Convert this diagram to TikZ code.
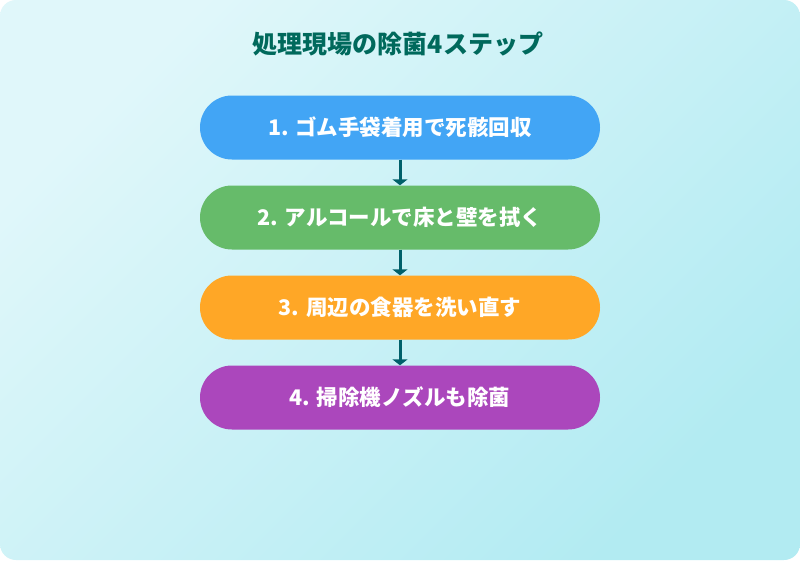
\documentclass[tikz,border=0pt]{standalone}
\usepackage{fontspec}
\setmainfont{Noto Sans CJK JP}
\usetikzlibrary{arrows.meta}
\definecolor{bgA}{HTML}{E0F7FA}
\definecolor{bgB}{HTML}{B2EBF2}
\definecolor{titlec}{HTML}{00695C}
\definecolor{arrowc}{HTML}{00606A}
\definecolor{c1}{HTML}{42A5F5}
\definecolor{c2}{HTML}{66BB6A}
\definecolor{c3}{HTML}{FFA726}
\definecolor{c4}{HTML}{AB47BC}
\tikzset{
  stepbox/.style={rounded corners=32pt, minimum width=400pt, minimum height=64pt,
    inner sep=0pt, text=white, font=\bfseries\fontsize{21.5pt}{24pt}\selectfont, anchor=center},
  flowarrow/.style={draw=arrowc, line width=3pt, -{Triangle[width=15pt,length=6pt]}}
}
\begin{document}
\begin{tikzpicture}[x=1pt,y=-1pt]
\useasboundingbox (0,0) rectangle (800,560);
\fill[white] (0,0) rectangle (800,560);
\shade[rounded corners=16pt, top color=bgA, bottom color=bgB, shading angle=45] (0,0) rectangle (800,560);
\node[text=titlec, font=\bfseries\fontsize{25pt}{28pt}\selectfont] (title) at (398,44) {処理現場の除菌4ステップ};
\node[stepbox, fill=c1] (s1) at (400,127.5) {1. ゴム手袋着用で死骸回収};
\node[stepbox, fill=c2] (s2) at (400,217.5) {2. アルコールで床と壁を拭く};
\node[stepbox, fill=c3] (s3) at (400,307.5) {3. 周辺の食器を洗い直す};
\node[stepbox, fill=c4] (s4) at (400,397.5) {4. 掃除機ノズルも除菌};
\draw[flowarrow] (s1) -- (s2);
\draw[flowarrow] (s2) -- (s3);
\draw[flowarrow] (s3) -- (s4);
\end{tikzpicture}
\end{document}
